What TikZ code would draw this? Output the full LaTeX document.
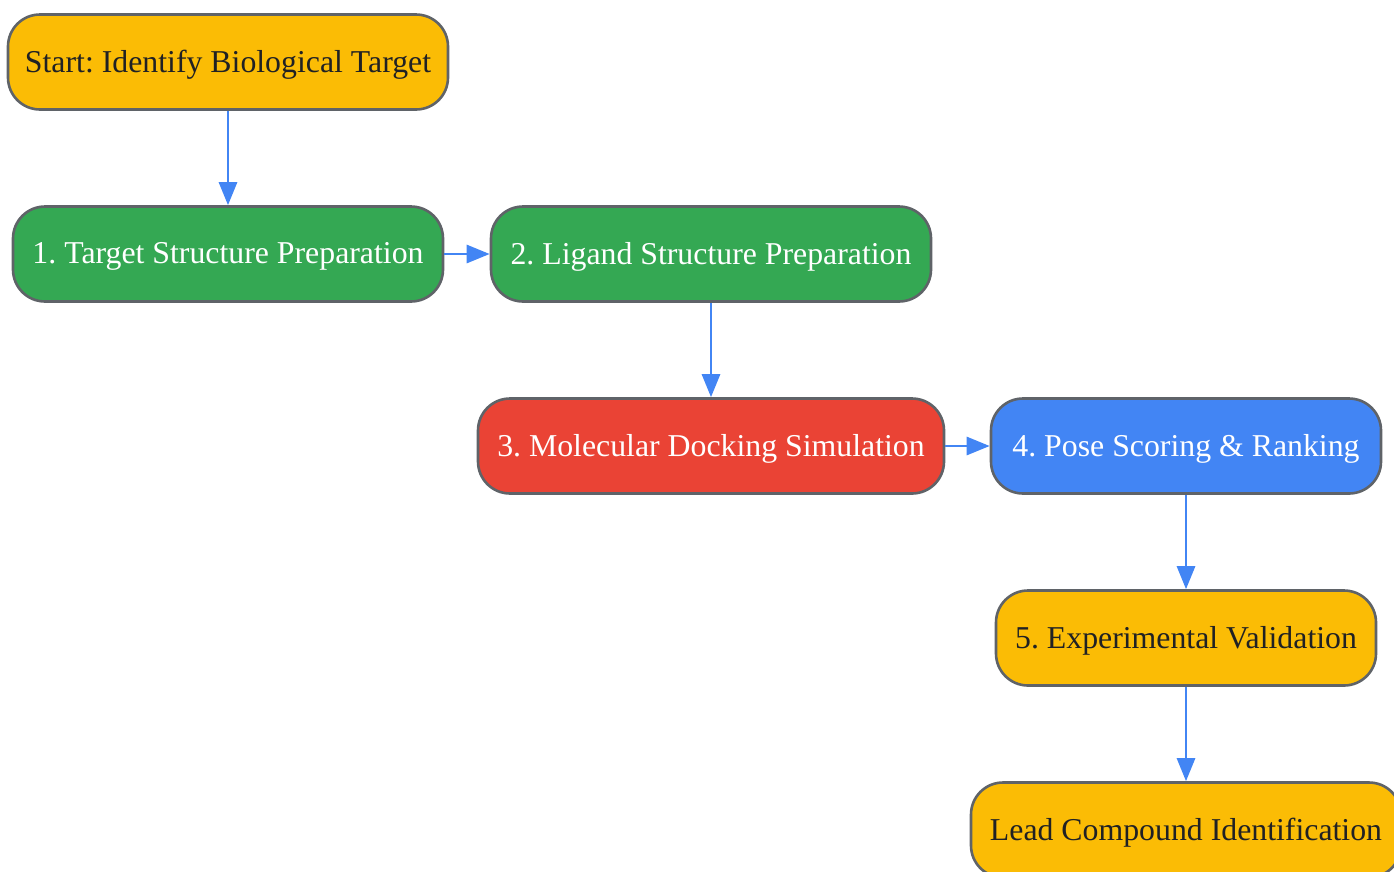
\documentclass[tikz,border=0pt]{standalone}
\usepackage{fontspec}
\setmainfont{Liberation Serif}
\usetikzlibrary{arrows.meta}
\definecolor{gyellow}{HTML}{FBBC05}
\definecolor{ggreen}{HTML}{34A853}
\definecolor{gred}{HTML}{EA4335}
\definecolor{gblue}{HTML}{4285F4}
\definecolor{gborder}{HTML}{5F6368}
\definecolor{dtext}{HTML}{202124}
\frenchspacing
\tikzset{
  box/.style={draw=gborder, line width=2.6pt, rounded corners=32pt, minimum height=95pt, inner sep=0pt, font=\fontsize{31.8}{38}\selectfont, anchor=center, text depth=2pt},
  ybox/.style={box, fill=gyellow, text=dtext},
  gbox/.style={box, fill=ggreen, text=white},
  rbox/.style={box, fill=gred, text=white},
  bbox/.style={box, fill=gblue, text=white},
  conn/.style={draw=gblue, line width=2.8pt, -{Triangle[length=23pt, width=18pt]}}
}
\begin{document}
\begin{tikzpicture}[x=1pt, y=-1pt]
\useasboundingbox (0,0) rectangle (1394,871);
\node[ybox, minimum width=440pt] (s) at (228,62) {Start: Identify Biological Target};
\node[gbox, minimum width=430pt] (n1) at (228,254) {1. Target Structure Preparation};
\node[gbox, minimum width=440pt] (n2) at (711,254) {2. Ligand Structure Preparation};
\node[rbox, minimum width=466pt] (n3) at (711,446) {3. Molecular Docking Simulation};
\node[bbox, minimum width=390pt] (n4) at (1186,446) {4. Pose Scoring \& Ranking};
\node[ybox, minimum width=380pt] (n5) at (1186,638) {5. Experimental Validation};
\node[ybox, minimum width=430pt] (n6) at (1186,830) {Lead Compound Identification};
\draw[conn] (s) -- (n1);
\draw[conn] (n1) -- (n2);
\draw[conn] (n2) -- (n3);
\draw[conn] (n3) -- (n4);
\draw[conn] (n4) -- (n5);
\draw[conn] (n5) -- (n6);
\end{tikzpicture}
\end{document}
